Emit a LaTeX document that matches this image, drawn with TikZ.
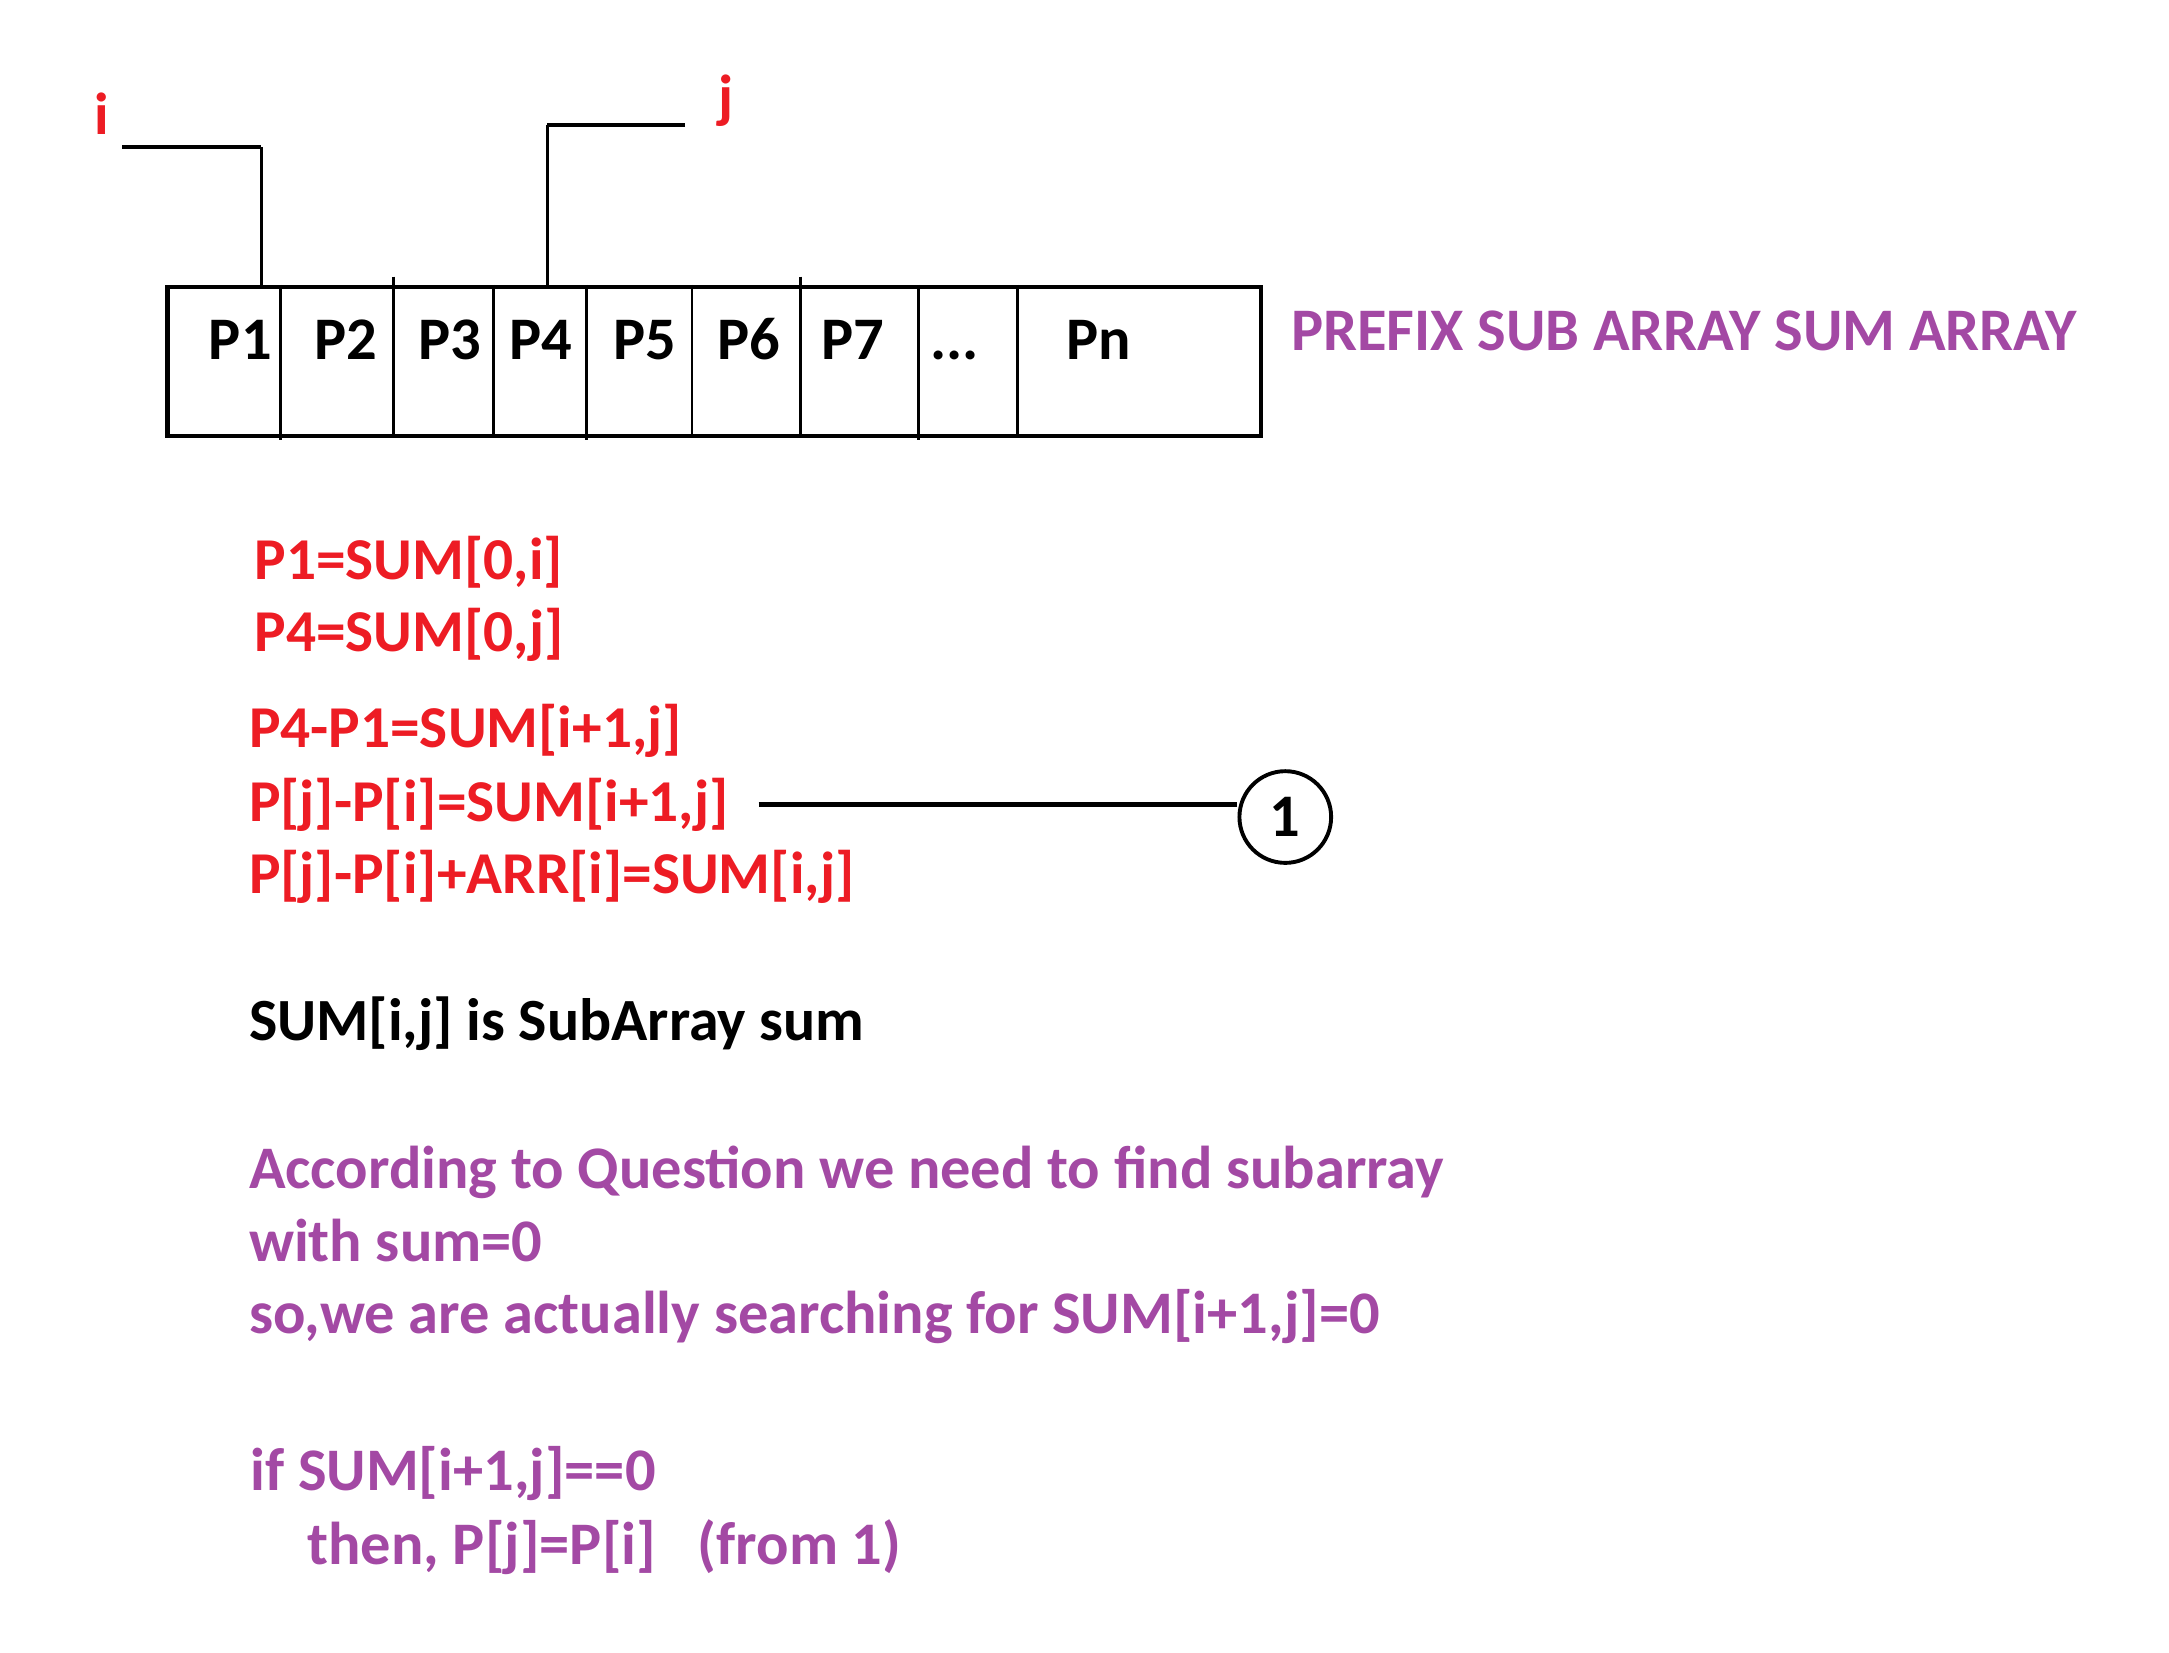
\documentclass[tikz,border=0pt]{standalone}
\usepackage{fontspec}
\setmainfont{Carlito}[BoldFont={Carlito Bold}]
\definecolor{pred}{HTML}{ED1C24}
\definecolor{ppurple}{HTML}{A349A4}
\begin{document}
\begin{tikzpicture}[x=1pt,y=-1pt,
  txt/.style={inner sep=0pt,anchor=base west,font=\fontsize{43.5}{52}\selectfont\bfseries},
  redtxt/.style={txt,text=pred,font=\fontsize{42.7}{52}\selectfont\bfseries},
  purptxt/.style={txt,text=ppurple},
  blktxt/.style={txt,text=black,font=\fontsize{43.1}{52}\selectfont\bfseries},
  cell/.style={inner sep=0pt,anchor=base,font=\fontsize{43.5}{52}\selectfont\bfseries},
  thickline/.style={line width=3pt},
  thinline/.style={line width=2pt}]
\useasboundingbox (1,1) rectangle (1562,1190);
% array box
\node[draw,thickline,minimum width=787pt,minimum height=107pt,inner sep=0pt,anchor=north west] (arr) at (120,206) {};
\foreach \x/\ya/\yb in {203/206/318,284/200/313,356/206/313,423/206/318,499/206/313,577/200/313,662/206/318,733/206/313}
  \draw[thinline] (\x,\ya) -- (\x,\yb);
\node[cell] (p1) at (174,260) {P1};
\node[cell] (p2) at (250,260) {P2};
\node[cell] (p3) at (325,260) {P3};
\node[cell] (p4) at (390,260) {P4};
\node[cell] (p5) at (465,260) {P5};
\node[cell] (p6) at (540,260) {P6};
\node[cell] (p7) at (615,260) {P7};
\node[cell] (pd) at (688,260) {...};
\node[cell] (pn) at (792,260) {Pn};
\node[purptxt] (title) at (930,253) {PREFIX SUB ARRAY SUM ARRAY};
% pointers
\node[redtxt] (ilab) at (69,98) {i};
\node[redtxt] (jlab) at (518,85) {j};
\coordinate (is) at (89,107);
\coordinate (it) at (189,206);
\coordinate (js) at (494,91);
\coordinate (jt) at (395,206);
\draw[thickline] (is) -- (is -| it);
\draw[thinline] (is -| it) -- (it);
\draw[thickline] (js) -- (js -| jt);
\draw[thinline] (js -| jt) -- (jt);
% red equations
\node[redtxt] (e1) at (184,418) {P1=SUM[0,i]};
\node[redtxt] (e2) at (184,470) {P4=SUM[0,j]};
\node[redtxt] (e3) at (180,539) {P4-P1=SUM[i+1,j]};
\node[redtxt] (e4) at (180,592) {P[j]-P[i]=SUM[i+1,j]};
\node[redtxt] (e5) at (180,644) {P[j]-P[i]+ARR[i]=SUM[i,j]};
% marker 1
\node[draw,circle,line width=2.8pt,minimum size=66pt,inner sep=0pt,font=\fontsize{43.5}{52}\selectfont\bfseries] (c1) at (926,589) {1};
\coordinate (ls) at (547,580);
\draw[thickline] (ls) -- (ls -| c1.west);
% black text
\node[blktxt] (def) at (180,750) {SUM[i,j] is SubArray sum};
% purple text
\node[purptxt] (q1) at (180,856) {According to Question we need to find subarray};
\node[purptxt] (q2) at (180,909) {with sum=0};
\node[purptxt] (q3) at (180,961) {so,we are actually searching for SUM[i+1,j]=0};
\node[purptxt] (c1a) at (181,1074) {if SUM[i+1,j]==0};
\node[purptxt] (c1b) at (222,1127) {then, P[j]=P[i]\hspace{30pt}(from 1)};
\end{tikzpicture}
\end{document}
